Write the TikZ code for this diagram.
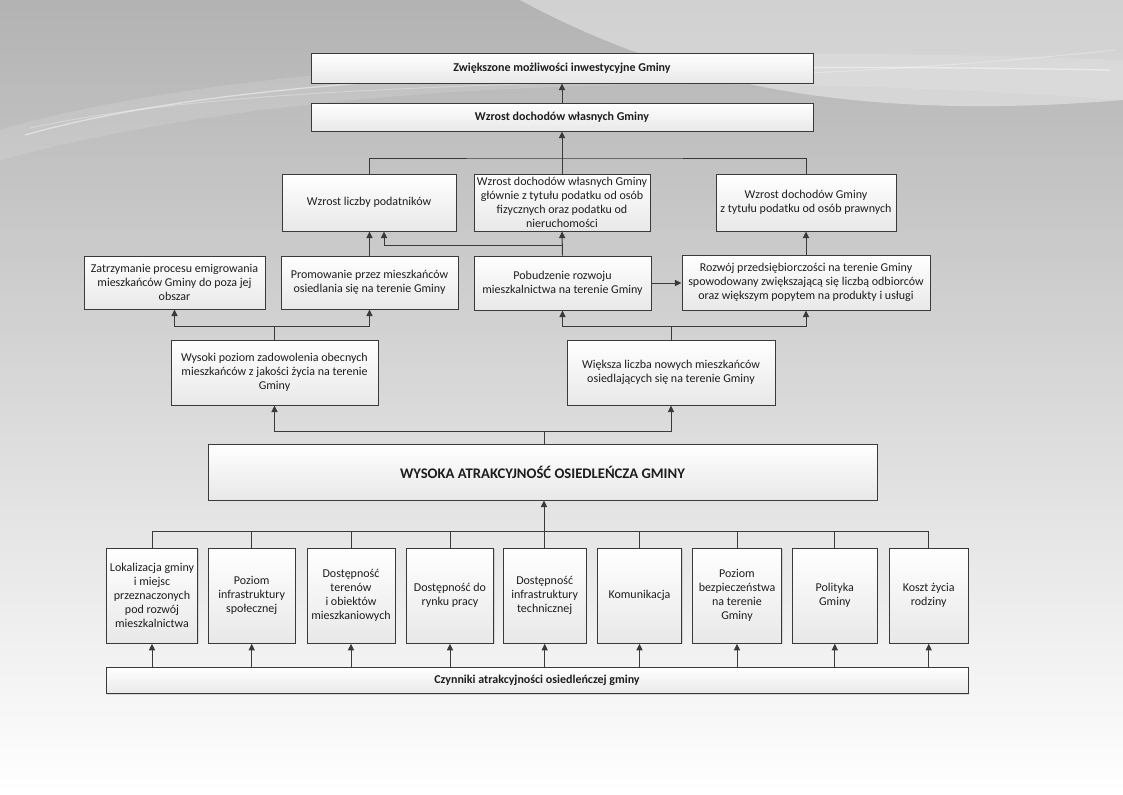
\documentclass[tikz,border=0pt]{standalone}
\usepackage{fontspec}
\setmainfont{Carlito}
\usepackage{tikz}
\usetikzlibrary{calc,positioning,arrows.meta,shadows}
\definecolor{linegray}{HTML}{3A3A3A}
\definecolor{textgray}{HTML}{1E1E1E}
\tikzset{
  box/.style 2 args={
    draw=linegray,
    rectangle,
    line width=0.7pt,
    minimum width=#1*0.75pt,
    minimum height=#2*0.75pt,
    inner sep=1pt,
    align=center,
    text=textgray,
    top color=white,
    bottom color=black!9,
    drop shadow={shadow xshift=0.8pt,shadow yshift=-0.8pt,opacity=0.25},
    font=\fontsize{9}{10.5}\selectfont,
  },
  headbox/.style={font=\fontsize{9}{11}\selectfont\bfseries},
  conn/.style={draw=linegray, line width=0.75pt},
  arr/.style={conn, -{Triangle[length=5pt,width=4.6pt]}},
}

\begin{document}
\begin{tikzpicture}[x=0.75pt,y=-0.75pt]
  % background
  \shade[top color=black!30, middle color=black!14, bottom color=white]
    (0,0) rectangle (1123,794);
  \useasboundingbox (0,0) rectangle (1123,794);
  \fill[white, opacity=0.4] (520,0) .. controls (650,70) and (820,125) .. (1123,100) -- (1123,0) -- cycle;
  \fill[white, opacity=0.12] (0,130) .. controls (200,70) and (600,40) .. (1123,60) -- (1123,100) .. controls (700,70) and (300,80) .. (0,160) -- cycle;
  \draw[white, opacity=0.45, line width=1pt] (25,135) .. controls (220,80) and (560,60) .. (1110,70);
  \draw[white, opacity=0.3, line width=0.7pt] (30,128) .. controls (300,70) and (700,95) .. (1115,50);

  % top level
  \node[box={502}{30}, headbox] (inwest) at (562,68) {Zwiększone możliwości inwestycyjne Gminy};
  \node[box={502}{28}, headbox] (dochody) at (562,117) {Wzrost dochodów własnych Gminy};

  % second level
  \node[box={174}{57}] (podatnicy) at (369,202.5) {Wzrost liczby podatników};
  \node[box={176}{57}] (fizyczne) at (562,202.5) {Wzrost dochodów własnych Gminy\\głównie z tytułu podatku od osób\\fizycznych oraz podatku od\\nieruchomości};
  \node[box={180}{57}] (prawne) at (806,202.5) {Wzrost dochodów Gminy\\z tytułu podatku od osób prawnych};

  % third level
  \node[box={181}{53}] (emigracja) at (174.5,282.5) {Zatrzymanie procesu emigrowania\\mieszkańców Gminy do poza jej\\obszar};
  \node[box={177}{53}] (promocja) at (369.5,282.5) {Promowanie przez mieszkańców\\osiedlania się na terenie Gminy};
  \node[box={177}{54}] (mieszkaln) at (562.5,283) {Pobudzenie rozwoju\\mieszkalnictwa na terenie Gminy};
  \node[box={248}{55}] (przedsieb) at (806,282.5) {Rozwój przedsiębiorczości na terenie Gminy\\spowodowany zwiększającą się liczbą odbiorców\\oraz większym popytem na produkty i usługi};

  % fourth level
  \node[box={207}{65}] (zadowol) at (274.5,372.5) {Wysoki poziom zadowolenia obecnych\\mieszkańców z jakości życia na terenie\\Gminy};
  \node[box={208}{65}] (nowi) at (671,372.5) {Większa liczba nowych mieszkańców\\osiedlających się na terenie Gminy};

  % core
  \node[box={669}{56}, font=\fontsize{11}{13}\selectfont\bfseries] (atrakc) at (542.5,472) {WYSOKA ATRAKCYJNOŚĆ OSIEDLEŃCZA GMINY};

  % factors
  \foreach \n/\x/\w/\txt in {
      1/152/91/{Lokalizacja gminy\\i miejsc\\przeznaczonych\\pod rozwój\\mieszkalnictwa},
      2/251.7/87/{Poziom\\infrastruktury\\społecznej},
      3/351/88/{Dostępność\\terenów\\i obiektów\\mieszkaniowych},
      4/450/87/{Dostępność do\\rynku pracy},
      5/544.7/83/{Dostępność\\infrastruktury\\technicznej},
      6/639.5/84/{Komunikacja},
      7/737/89/{Poziom\\bezpieczeństwa\\na terenie\\Gminy},
      8/834.8/85/{Polityka\\Gminy},
      9/928.7/79/{Koszt życia\\rodziny}} {
    \node[box={\w}{95}] (czyn\n) at (\x,595.75) {\txt};
  }
  \node[box={862}{26}, font=\fontsize{9}{11}\selectfont\bfseries] (czynniki) at (537,680.5) {Czynniki atrakcyjności osiedleńczej gminy};

  % connectors, top part
  \draw[arr] (dochody.north) -- (inwest.south);
  \coordinate (topj) at (562,158);
  \draw[conn] (podatnicy.north) |- (topj) -| (prawne.north);
  \draw[arr] (fizyczne.north) -- (dochody.south);
  \draw[arr] (promocja.north) -- (promocja.north |- podatnicy.south);
  \draw[arr] (mieszkaln.north) -- (fizyczne.south);
  \coordinate (fizj) at (562,245.5);
  \draw[arr] (fizj) -| ($(podatnicy.south)+(15,0)$);
  \draw[arr] (mieszkaln.east) -- (przedsieb.west |- mieszkaln.east);
  \draw[arr] (przedsieb.north) -- (prawne.south);

  % connectors, middle part
  \coordinate (zadj) at (274.5,326);
  \draw[conn] (zadowol.north) -- (zadj);
  \draw[arr] (zadj) -| (emigracja.south);
  \draw[arr] (zadj) -| (promocja.south);
  \coordinate (nowj) at (671,326);
  \draw[conn] (nowi.north) -- (nowj);
  \draw[arr] (nowj) -| (mieszkaln.south);
  \draw[arr] (nowj) -| (przedsieb.south);
  \coordinate (atrj) at (544,431);
  \draw[conn] (atrj |- atrakc.north) -- (atrj);
  \draw[arr] (atrj) -| (zadowol.south);
  \draw[arr] (atrj) -| (nowi.south);

  % connectors, bottom part
  \coordinate (czj) at (544,531);
  \draw[conn] (czyn1.north) |- (czj) -| (czyn9.north);
  \draw[arr] (czj) -- (czj |- atrakc.south);
  \foreach \n in {2,...,8} {
    \draw[conn] (czyn\n.north) -- (czyn\n.north |- czj);
  }
  \foreach \n in {1,...,9} {
    \draw[arr] (czyn\n.south |- czynniki.north) -- (czyn\n.south);
  }
\end{tikzpicture}
\end{document}
